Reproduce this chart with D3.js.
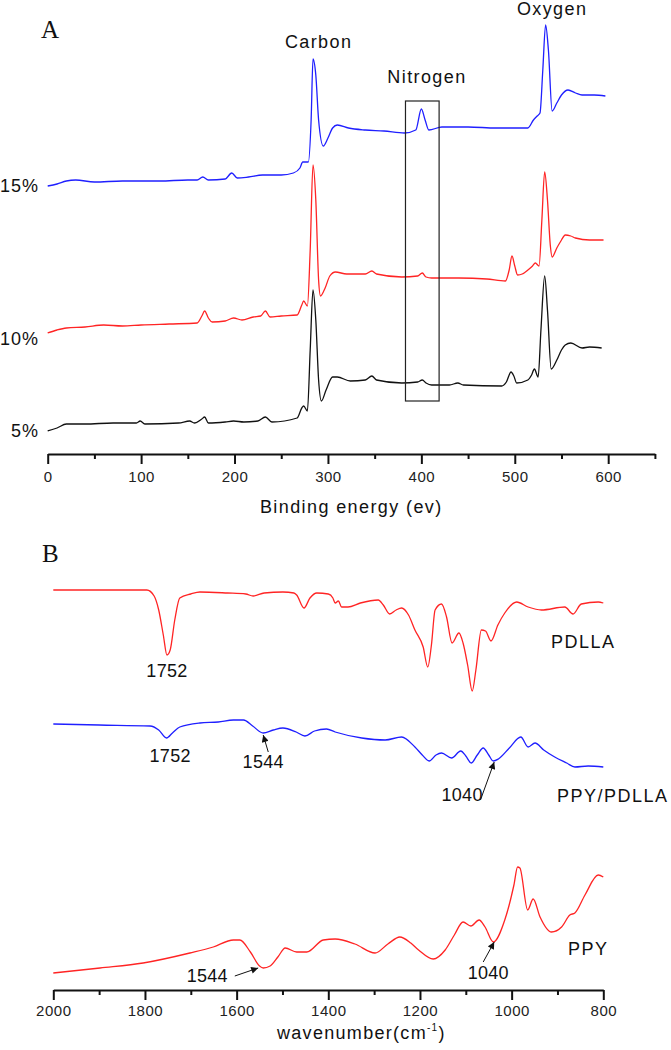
<!DOCTYPE html>
<html><head><meta charset="utf-8">
<script src="https://cdn.jsdelivr.net/npm/d3@7"></script>
<style>
body{margin:0;background:#fff;}
svg{display:block;font-family:"Liberation Sans",Arial,sans-serif;}
</style></head><body>
<svg id="c" width="671" height="1050"></svg>
<script>
// ---------- Panel A: XPS survey spectra  [binding energy (eV), intensity (a.u.)]
const xps15 = [[0,268],[10,270],[20,273],[30,274],[50,272],[80,273],[120,273],[150,274],[160,274],[166,277],[172,274],[190,275],[197,281],[203,276],[215,277],[230,279],[250,279],[263,281],[270,286],[273,292],[279,292],[282,334],[284,395],[287,379],[290,334],[295,308],[300,316],[305,326],[310,329],[322,326],[340,324],[360,323],[382,321],[394,324],[400,345],[404,334],[408,324],[422,327],[450,327],[480,326],[500,326],[514,326],[520,334],[524,338],[527,341],[530,384],[533,429],[536,404],[540,343],[545,351],[550,359],[557,364],[565,361],[572,359],[585,359],[597,358]];
const xps10 = [[0,121],[10,124],[20,126],[40,127],[60,129],[80,128],[100,129],[130,130],[160,131],[165,138],[168,143],[172,136],[176,132],[190,133],[199,136],[208,134],[220,137],[228,138],[233,143],[238,137],[250,138],[267,139],[272,149],[274,153],[278,148],[281,204],[284,289],[287,254],[290,174],[292,158],[297,166],[302,178],[308,182],[320,180],[340,180],[347,183],[352,180],[379,177],[396,178],[401,181],[405,177],[411,176],[440,176],[470,175],[490,173],[494,184],[497,198],[500,188],[503,179],[508,180],[514,184],[519,188],[522,191],[526,188],[529,234],[532,282],[535,254],[538,209],[540,197],[545,206],[550,214],[554,219],[560,218],[565,216],[580,214],[595,214]];
const xps5 = [[0,23],[10,26],[20,30],[40,30],[70,31],[95,31],[99,33],[104,30],[140,31],[152,33],[157,31],[165,35],[168,37],[172,31],[190,32],[199,33],[210,32],[225,33],[233,37],[240,32],[267,36],[272,46],[274,48],[278,43],[281,104],[284,164],[287,134],[290,74],[293,53],[298,64],[305,77],[310,77],[324,73],[340,74],[347,78],[352,74],[379,71],[396,72],[401,74],[405,71],[411,69],[430,69],[439,71],[445,69],[486,68],[491,72],[496,82],[499,78],[502,71],[514,74],[518,79],[521,85],[525,77],[528,124],[532,178],[535,144],[539,85],[545,94],[550,104],[554,109],[560,111],[572,106],[580,107],[593,106]];
const xpsTicksMajor = [0,100,200,300,400,500,600];
const xpsTicksMinor = [50,150,250,350,450,550,650];
const xpsSeriesLabels = [["15%",262],["10%",109],["5%",17]];
const xpsPeakLabels = [["Carbon",290,406],["Nitrogen",406,371],["Oxygen",540,439]];
const nitrogenBox = [383,419,53,353];

// ---------- Panel B: FTIR spectra  [wavenumber (cm-1), transmittance (a.u.)]
const irPDLLA = [[2000,410],[1900,410],[1796,410],[1780,404],[1770,390],[1760,365],[1752,345],[1745,350],[1735,380],[1724,402],[1700,406],[1680,408],[1620,407],[1580,406],[1564,404],[1540,407],[1499,408],[1475,407],[1469,405],[1453,392],[1440,402],[1425,407],[1400,406],[1390,402],[1385,397],[1378,399],[1371,393],[1357,393],[1330,397],[1291,400],[1280,395],[1266,386],[1252,390],[1240,392],[1225,385],[1211,370],[1193,353],[1183,333],[1175,355],[1167,390],[1153,396],[1142,383],[1130,357],[1115,367],[1106,357],[1096,335],[1086,309],[1078,330],[1066,370],[1057,369],[1045,359],[1030,375],[1015,387],[989,398],[964,393],[935,390],[884,393],[866,386],[848,396],[811,398],[800,397]];
const irPPYPDLLA = [[2000,276],[1900,275],[1789,274],[1770,270],[1753,262],[1740,267],[1724,273],[1680,277],[1640,278],[1607,280],[1585,280],[1565,274],[1542,267],[1520,270],[1499,272],[1470,268],[1451,264],[1430,269],[1404,271],[1385,268],[1327,262],[1276,260],[1240,263],[1211,253],[1195,245],[1180,239],[1165,245],[1153,247],[1131,242],[1111,249],[1100,244],[1088,237],[1075,245],[1062,252],[1050,245],[1040,239],[1029,241],[1005,252],[980,263],[964,253],[949,257],[930,250],[906,243],[880,237],[862,233],[833,234],[800,233]];
const irPPY = [[2000,27],[1898,32],[1804,37],[1702,47],[1651,53],[1607,60],[1593,60],[1570,48],[1550,34],[1542,32],[1527,34],[1510,43],[1494,52],[1469,48],[1447,48],[1411,60],[1385,61],[1342,56],[1298,47],[1270,56],[1244,63],[1220,57],[1203,50],[1171,41],[1145,50],[1125,65],[1106,78],[1089,74],[1071,80],[1058,73],[1040,58],[1015,80],[995,115],[987,133],[982,132],[965,90],[953,101],[938,83],[913,68],[891,73],[873,85],[862,87],[840,105],[811,125],[800,123]];
const irTicksMajor = [2000,1800,1600,1400,1200,1000,800];
const irTicksMinor = [1900,1700,1500,1300,1100,900];
const irSeriesLabels = [["PDLLA",914,352],["PPY/PDLLA",901,198],["PPY",877,45]];
// [text, text wn, text baseline value, arrow tail wn, tail value, arrow tip wn, tip value]
const irPeakLabels = [
  ["1752",1752,323,null,null,null,null],
  ["1752",1745,238,null,null,null,null],
  ["1544",1542,232,1531,248,1542,265],
  ["1040",1108,199,1068,200,1038,238],
  ["1544",1664,18,1604,24,1553,32],
  ["1040",1051,21,1062,38,1038,58]
];

const svg = d3.select("#c");
const blue = "#1f1fff", red = "#ff2424", black = "#111";

svg.append("defs").append("marker")
  .attr("id","arr").attr("viewBox","0 0 10 10").attr("refX",10).attr("refY",5)
  .attr("markerWidth",9).attr("markerHeight",7).attr("markerUnits","userSpaceOnUse")
  .attr("orient","auto")
  .append("path").attr("d","M0,0 L10,5 L0,10 Z").attr("fill","#111");

// ===== Panel A
const xA = d3.scaleLinear().domain([0,650]).range([47.7,654.9]);
const yA = d3.scaleLinear().domain([0,440]).range([454,14]);
const lineA = d3.line().x(d=>xA(d[0])).y(d=>yA(d[1])).curve(d3.curveMonotoneX);

[[xps15,blue],[xps10,red],[xps5,black]].forEach(([s,c])=>{
  svg.append("path").datum(s).attr("d",lineA).attr("fill","none")
    .attr("stroke",c).attr("stroke-width",1.3).attr("stroke-linejoin","round");
});

svg.append("rect")
  .attr("x",xA(nitrogenBox[0])).attr("y",yA(nitrogenBox[3]))
  .attr("width",xA(nitrogenBox[1])-xA(nitrogenBox[0]))
  .attr("height",yA(nitrogenBox[2])-yA(nitrogenBox[3]))
  .attr("fill","none").attr("stroke","#222").attr("stroke-width",1.2);

const gA = svg.append("g").attr("transform",`translate(0,${yA(0)})`);
gA.call(d3.axisBottom(xA).tickValues(xpsTicksMajor).tickSize(10).tickSizeOuter(0).tickPadding(7).tickFormat(d3.format("d")));
const gAm = svg.append("g").attr("transform",`translate(0,${yA(0)})`);
gAm.call(d3.axisBottom(xA).tickValues(xpsTicksMinor).tickSize(5).tickFormat(""));
gAm.select(".domain").remove();

svg.append("text").attr("x",xA(325)).attr("y",513).attr("text-anchor","middle")
  .attr("font-size",18).attr("letter-spacing",1.4).attr("fill","#111").text("Binding energy (ev)");

xpsSeriesLabels.forEach(([t,v])=>{
  svg.append("text").attr("x",39).attr("y",yA(v)).attr("text-anchor","end")
    .attr("font-size",18).attr("letter-spacing",1).attr("fill","#111").text(t);
});
xpsPeakLabels.forEach(([t,e,v])=>{
  svg.append("text").attr("x",xA(e)).attr("y",yA(v)).attr("text-anchor","middle")
    .attr("font-size",18).attr("letter-spacing",1.4).attr("fill","#111").text(t);
});
svg.append("text").attr("x",41).attr("y",38).attr("font-family","'Liberation Serif','Times New Roman',serif")
  .attr("font-size",25).attr("fill","#111").text("A");

// ===== Panel B
const xB = d3.scaleLinear().domain([2000,800]).range([53.3,603.3]);
const yB = d3.scaleLinear().domain([0,440]).range([1000,560]);
const lineB = d3.line().x(d=>xB(d[0])).y(d=>yB(d[1])).curve(d3.curveMonotoneX);

[[irPDLLA,red],[irPPYPDLLA,blue],[irPPY,red]].forEach(([s,c])=>{
  svg.append("path").datum(s).attr("d",lineB).attr("fill","none")
    .attr("stroke",c).attr("stroke-width",1.3).attr("stroke-linejoin","round");
});

const gB = svg.append("g").attr("transform","translate(0,990)");
gB.call(d3.axisBottom(xB).tickValues(irTicksMajor).tickSize(10).tickSizeOuter(0).tickPadding(5).tickFormat(d3.format("d")));
const gBm = svg.append("g").attr("transform","translate(0,990)");
gBm.call(d3.axisBottom(xB).tickValues(irTicksMinor).tickSize(5).tickFormat(""));
gBm.select(".domain").remove();

const wt = svg.append("text").attr("x",277).attr("y",1039)
  .attr("font-size",18).attr("letter-spacing",1.3).attr("fill","#111");
wt.append("tspan").text("wavenumber(cm");
wt.append("tspan").attr("font-size",10).attr("dy",-8).text("-1");
wt.append("tspan").attr("dy",8).text(")");

irSeriesLabels.forEach(([t,w,v])=>{
  svg.append("text").attr("x",xB(w)).attr("y",yB(v))
    .attr("font-size",18).attr("letter-spacing",1.5).attr("fill","#111").text(t);
});
irPeakLabels.forEach(([t,w,v,tw,tv,hw,hv])=>{
  svg.append("text").attr("x",xB(w)).attr("y",yB(v)).attr("text-anchor","middle")
    .attr("font-size",18).attr("letter-spacing",0.3).attr("fill","#111").text(t);
  if(tw!==null){
    svg.append("line").attr("x1",xB(tw)).attr("y1",yB(tv)).attr("x2",xB(hw)).attr("y2",yB(hv))
      .attr("stroke","#111").attr("stroke-width",1).attr("marker-end","url(#arr)");
  }
});
svg.append("text").attr("x",42).attr("y",562).attr("font-family","'Liberation Serif','Times New Roman',serif")
  .attr("font-size",25).attr("fill","#111").text("B");

// axis styling
svg.selectAll(".domain").attr("stroke","#111").attr("stroke-width",2);
svg.selectAll(".tick line").attr("stroke","#111").attr("stroke-width",2);
svg.selectAll(".tick text").attr("font-size",15).attr("font-family","'Liberation Sans',Arial,sans-serif")
  .attr("letter-spacing",0.5).attr("fill","#222");
</script>
</body></html>
